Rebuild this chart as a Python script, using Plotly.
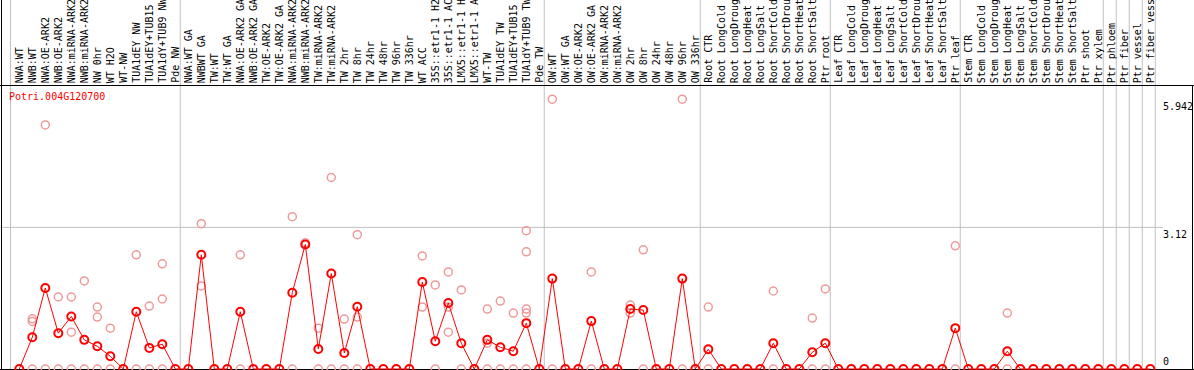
import plotly.graph_objects as go

# ---------------- data ----------------
gene_id = "Potri.004G120700"

categories = [
    # group 1
    "NWA:WT", "NWB:WT", "NWA:OE-ARK2", "NWB:OE-ARK2", "NWA:miRNA-ARK2", "NWB:miRNA-ARK2",
    "NW 0hr", "WT H2O", "WT-NW", "TUA1dEY NW", "TUA1dEY+TUB15 NW", "TUA1dY+TUB9 NW", "Pde NW",
    # group 2
    "NWA:WT GA", "NWBWT GA", "TW:WT", "TW:WT GA", "NWA:OE-ARK2 GA", "NWB:OE-ARK2 GA",
    "TW:OE-ARK2", "TW:OE-ARK2 GA", "NWA:miRNA-ARK2", "NWB:miRNA-ARK2", "TW:miRNA-ARK2",
    "TW:miRNA-ARK2", "TW 2hr", "TW 8hr", "TW 24hr", "TW 48hr", "TW 96hr", "TW 336hr",
    "WT ACC", "35S::etr1-1 H2O", "35S::etr1-1 ACC", "LMX5::etr1-1 H2O", "LMX5::etr1-1 ACC",
    "WT-TW", "TUA1dEY TW", "TUA1dEY+TUB15 TW", "TUA1dY+TUB9 TW", "Pde TW",
    # group 3
    "OW:WT", "OW:WT GA", "OW:OE-ARK2", "OW:OE-ARK2 GA", "OW:miRNA-ARK2", "OW:miRNA-ARK2",
    "OW 2hr", "OW 8hr", "OW 24hr", "OW 48hr", "OW 96hr", "OW 336hr",
    # group 4
    "Root CTR", "Root LongCold", "Root LongDrought", "Root LongHeat", "Root LongSalt",
    "Root ShortCold", "Root ShortDrought", "Root ShortHeat", "Root ShortSalt", "Ptr root",
    # group 5
    "Leaf CTR", "Leaf LongCold", "Leaf LongDrought", "Leaf LongHeat", "Leaf LongSalt",
    "Leaf ShortCold", "Leaf ShortDrought", "Leaf ShortHeat", "Leaf ShortSalt", "Ptr leaf",
    # group 6
    "Stem CTR", "Stem LongCold", "Stem LongDrought", "Stem LongHeat", "Stem LongSalt",
    "Stem ShortCold", "Stem ShortDrought", "Stem ShortHeat", "Stem ShortSalt", "Ptr shoot",
    "Ptr xylem",
    # singles
    "Ptr phloem", "Ptr fiber", "Ptr vessel", "Ptr fiber vessel",
]

group_sizes = [13, 28, 12, 10, 10, 11, 1, 1, 1, 1]

mean_values = [
    0, 0.70, 1.785, 0.789, 1.158, 0.642, 0.501, 0.280, 0, 1.261, 0.465, 0.546, 0,
    0, 2.515, 0, 0, 1.261, 0, 0, 0, 1.681, 2.743, 0.442, 2.102, 0.354, 1.372, 0, 0, 0, 0,
    1.917, 0.612, 1.453, 0.568, 0, 0.642, 0.479, 0.391, 1.010, 0,
    1.991, 0, 0, 1.055, 0, 0, 1.320, 1.298, 0, 0, 1.991, 0,
    0.435, 0, 0, 0, 0, 0.568, 0, 0, 0.369, 0.568,
    0, 0, 0, 0, 0, 0, 0, 0, 0, 0.900,
    0, 0, 0, 0.391, 0, 0, 0, 0, 0, 0, 0,
    0, 0, 0, 0,
]

# individual replicate samples (category index, value)
rep_idx = [
    1, 1, 2, 3, 4, 4, 5, 6, 6, 7, 9, 10, 11, 11, 14, 14, 17, 21, 22, 23, 24, 25, 26, 26,
    31, 31, 32, 33, 33, 33, 34, 36, 36, 37, 38, 39, 39, 39, 39, 41, 44, 47, 47, 48, 51,
    53, 58, 61, 62, 72, 76,
    1, 2, 3, 4, 5, 6, 7, 9, 10, 11, 17, 21, 23, 24, 25, 26, 32, 34, 36, 37, 38, 39, 41,
    44, 48, 51, 53, 58, 61, 62, 72, 76,
]
rep_val = [
    1.106, 1.047, 5.376, 1.586, 1.586, 0.811, 1.940, 1.364, 1.143, 0.900, 2.515, 1.387,
    2.316, 1.542, 3.201, 1.829, 2.515, 3.355, 2.780, 0.900, 4.218, 1.099, 2.958, 1.143,
    2.490, 1.364, 1.851, 2.139, 1.364, 0.811, 1.741, 1.320, 0.568, 1.497, 1.232, 3.046,
    2.581, 1.320, 1.232, 5.942, 2.139, 1.409, 1.232, 2.626, 5.942,
    1.364, 1.718, 1.121, 1.763, 2.714, 1.232,
    0, 0, 0, 0, 0, 0, 0, 0, 0, 0, 0, 0, 0, 0, 0, 0, 0, 0, 0, 0, 0, 0, 0,
    0, 0, 0, 0, 0, 0, 0, 0, 0,
]

y_tick_values = [5.942, 3.12, 0]
y_tick_labels = ["5.942", "3.12", "0"]

# ---------------- geometry (pixel layout of the page) ----------------
W, H = 1194, 370
X0_PX, X_STEP = 19.3, 13.0        # pixel of first category, spacing
Y0_PX, Y_SCALE = 369.0, 45.4      # pixel of value 0, pixels per unit
HEADER_PX = 85


def px_to_x(px):
    return (px - X0_PX) / X_STEP


def py_to_y(py):
    return (Y0_PX - py) / Y_SCALE


x_range = [px_to_x(0), px_to_x(W)]
y_range = [py_to_y(H), py_to_y(0)]
y_head = py_to_y(HEADER_PX)

FONT = "DejaVu Sans Mono"
GRID = "#c0c0c0"

fig = go.Figure()

fig.add_trace(go.Scatter(
    x=rep_idx, y=rep_val, mode="markers",
    marker=dict(symbol="circle-open", size=8, color="#ef9a9a", line=dict(width=1.5)),
    hoverinfo="skip",
))
fig.add_trace(go.Scatter(
    x=list(range(len(categories))), y=mean_values, mode="lines+markers",
    line=dict(color="#ff0000", width=1),
    marker=dict(symbol="circle-open", size=8, color="#ff0000", line=dict(width=2)),
    hoverinfo="skip",
))

shapes = []
# vertical group separators
bounds = [-0.68]
end = -1
for g in group_sizes:
    end += g
    bounds.append(end + 0.38)
for b in bounds:
    shapes.append(dict(type="line", xref="x", yref="y", x0=b, x1=b,
                       y0=y_range[0], y1=y_range[1], layer="below",
                       line=dict(color=GRID, width=1)))
# horizontal grid at 3.12
shapes.append(dict(type="line", xref="x", yref="y", x0=x_range[0], x1=px_to_x(1163),
                   y0=3.12, y1=3.12, layer="below", line=dict(color=GRID, width=1)))
# black frame lines
shapes.append(dict(type="line", xref="x", yref="y", x0=x_range[0], x1=x_range[1],
                   y0=py_to_y(HEADER_PX + 0.5), y1=py_to_y(HEADER_PX + 0.5),
                   layer="below", line=dict(color="black", width=1)))
shapes.append(dict(type="line", xref="x", yref="y", x0=x_range[0], x1=x_range[1],
                   y0=py_to_y(369.5), y1=py_to_y(369.5),
                   layer="below", line=dict(color="black", width=1)))
shapes.append(dict(type="line", xref="x", yref="y", x0=px_to_x(1.5), x1=px_to_x(1.5),
                   y0=y_range[0], y1=y_range[1], layer="below",
                   line=dict(color="black", width=1)))
shapes.append(dict(type="line", xref="x", yref="y", x0=px_to_x(1192.5), x1=px_to_x(1192.5),
                   y0=y_range[0], y1=y_head, layer="below",
                   line=dict(color="black", width=1)))

annotations = []
for i, name in enumerate(categories):
    annotations.append(dict(x=i, y=y_head, xref="x", yref="y", text=name,
                            showarrow=False, textangle=-90, xanchor="center",
                            yanchor="bottom", font=dict(family=FONT, size=10, color="black")))
for v, t in zip(y_tick_values, y_tick_labels):
    annotations.append(dict(x=px_to_x(1161), y=v, xref="x", yref="y", text=t,
                            showarrow=False, xanchor="left",
                            yanchor="bottom" if v == 0 else "top",
                            font=dict(family=FONT, size=10, color="black")))
annotations.append(dict(x=px_to_x(7), y=py_to_y(96.5), xref="x", yref="y", text=gene_id,
                        showarrow=False, xanchor="left", yanchor="middle",
                        font=dict(family=FONT, size=10, color="#ff0000")))

fig.update_layout(
    width=W, height=H,
    margin=dict(l=0, r=0, t=0, b=0, pad=0),
    paper_bgcolor="white", plot_bgcolor="white",
    showlegend=False,
    xaxis=dict(range=x_range, visible=False, fixedrange=True),
    yaxis=dict(range=y_range, visible=False, fixedrange=True),
    shapes=shapes,
    annotations=annotations,
)

fig.write_html(
    "out.html",
    config={"displayModeBar": False},
    post_script="document.body.style.margin='0';document.body.style.overflow='hidden';",
)
